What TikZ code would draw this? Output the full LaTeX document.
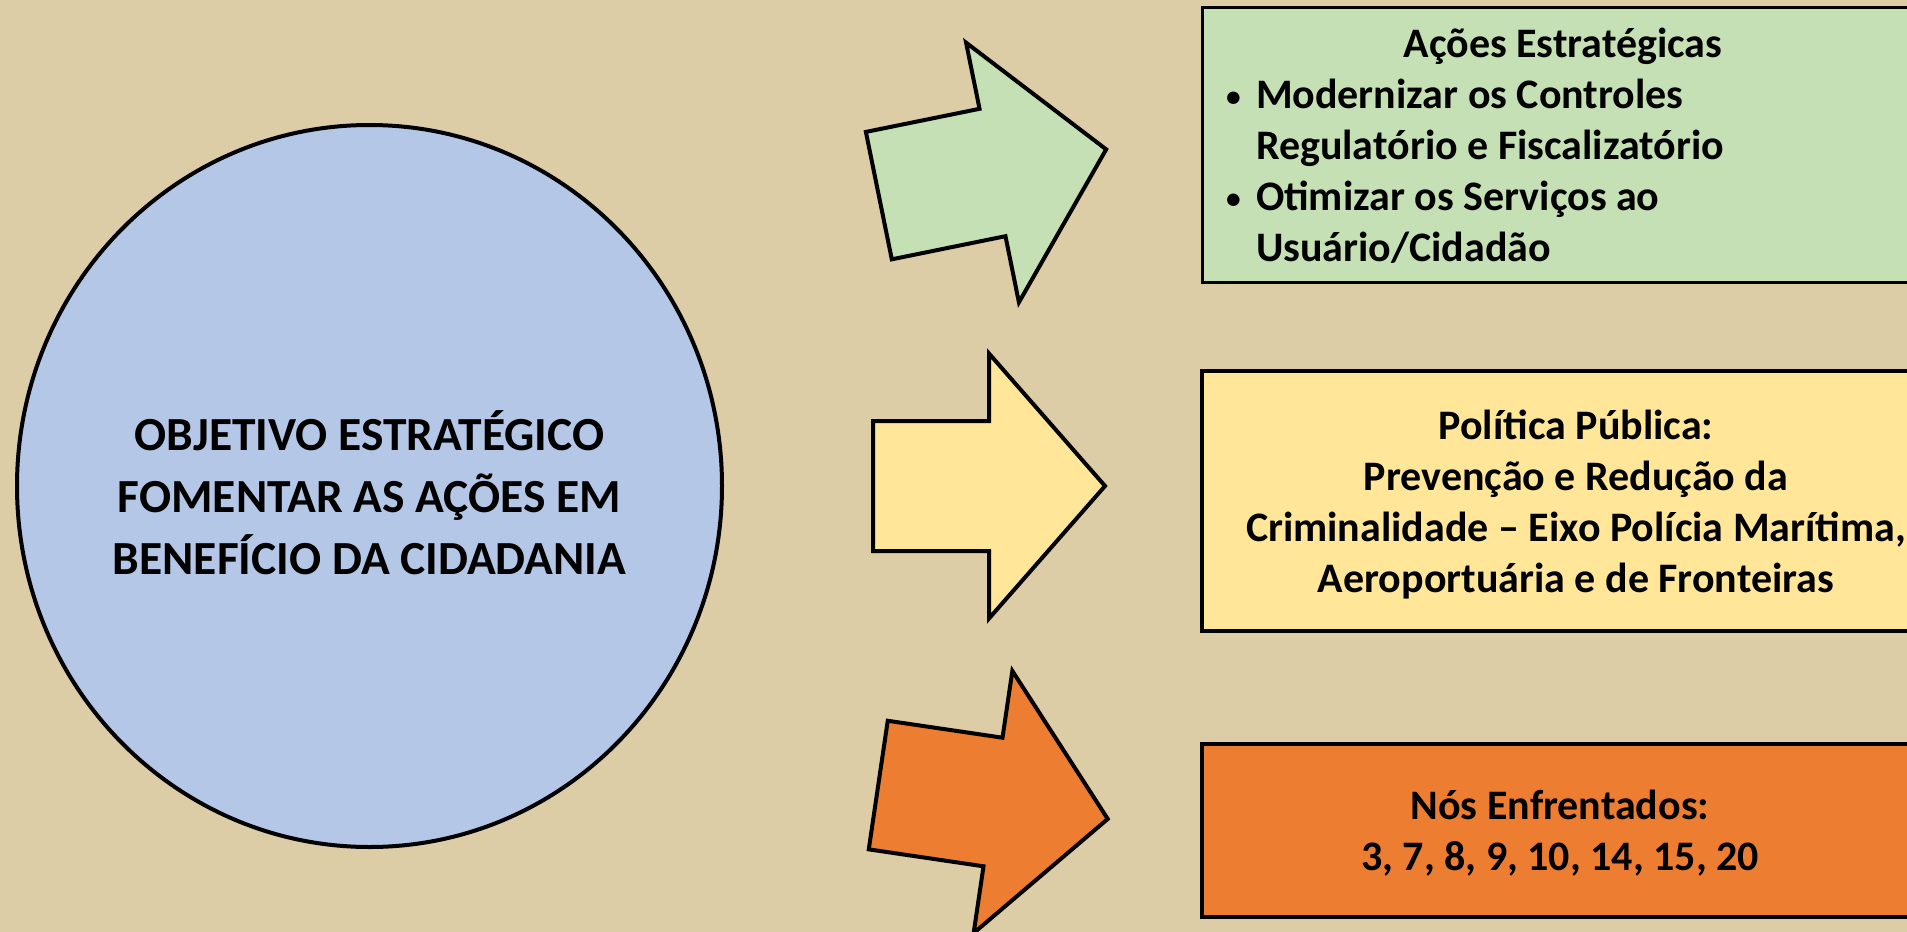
\documentclass[tikz,border=0pt]{standalone}
\usepackage{fontspec}
\setmainfont{Carlito}
\usetikzlibrary{shapes.geometric}

\definecolor{fundo}{RGB}{221,205,167}
\definecolor{azulobj}{RGB}{180,199,231}
\definecolor{verdeacao}{RGB}{197,224,180}
\definecolor{amarelopol}{RGB}{255,230,153}
\definecolor{laranjanos}{RGB}{237,125,49}

\newcommand{\marca}{\makebox[25pt][l]{\hspace*{-5pt}\raisebox{2pt}{\scalebox{0.7}{\textbullet}}}}

\tikzset{
  objetivo/.style={ellipse, draw, line width=4pt, fill=azulobj,
    minimum width=705pt, minimum height=722pt, inner sep=0pt},
  textoobj/.style={align=center, inner sep=0pt,
    font=\bfseries\fontsize{47.5}{62}\selectfont},
  caixa/.style={rectangle, draw, line width=4pt, align=center, text depth=0pt,
    font=\bfseries\fontsize{42}{51}\selectfont},
  seta/.pic={
    \draw[line width=4pt, fill=#1]
      (-116,-65) -- (0,-65) -- (0,-132.5) -- (116,0)
      -- (0,132.5) -- (0,65) -- (-116,65) -- cycle;
  }
}

\begin{document}
\begin{tikzpicture}[x=1pt, y=-1pt]
  \useasboundingbox (0,0) rectangle (1907,932);
  \clip (0,0) rectangle (1907,932);
  \fill[fundo] (0,0) rectangle (1907,932);

  % circulo do objetivo
  \node[objetivo] (obj) at (369.5,486) {};
  \node[textoobj] (objtexto) at ([yshift=-6.5pt]obj.center)
    {OBJETIVO ESTRATÉGICO\\FOMENTAR AS AÇÕES EM\\BENEFÍCIO DA CIDADANIA};

  % setas
  \pic[rotate=11.5] at (992.5,172.5) {seta=verdeacao};
  \pic at (989,486) {seta=amarelopol};
  \pic[rotate=-8.4] at (993,802) {seta=laranjanos};

  % caixas
  \node[caixa, line width=3pt, fill=verdeacao, minimum width=722pt,
    minimum height=275pt, align=left, inner xsep=29pt,
    font=\bfseries\fontsize{42}{51}\selectfont]
    (acoes) at (1563,144.5)
    {\makebox[664pt]{Ações Estratégicas}\\
     \marca Modernizar os Controles\\
     \hspace*{25pt}Regulatório e Fiscalizatório\\
     \marca Otimizar os Serviços ao\\
     \hspace*{25pt}Usuário/Cidadão};
  \node[caixa, fill=amarelopol, minimum width=748pt, minimum height=260pt]
    (politica) at (1576,501)
    {Política Pública:\\Prevenção e Redução da\\Criminalidade – Eixo Polícia Marítima,\\Aeroportuária e de Fronteiras};
  \node[caixa, fill=laranjanos, minimum width=716pt, minimum height=173pt]
    (nos) at (1560,830.5)
    {Nós Enfrentados:\\3, 7, 8, 9, 10, 14, 15, 20};
\end{tikzpicture}
\end{document}
